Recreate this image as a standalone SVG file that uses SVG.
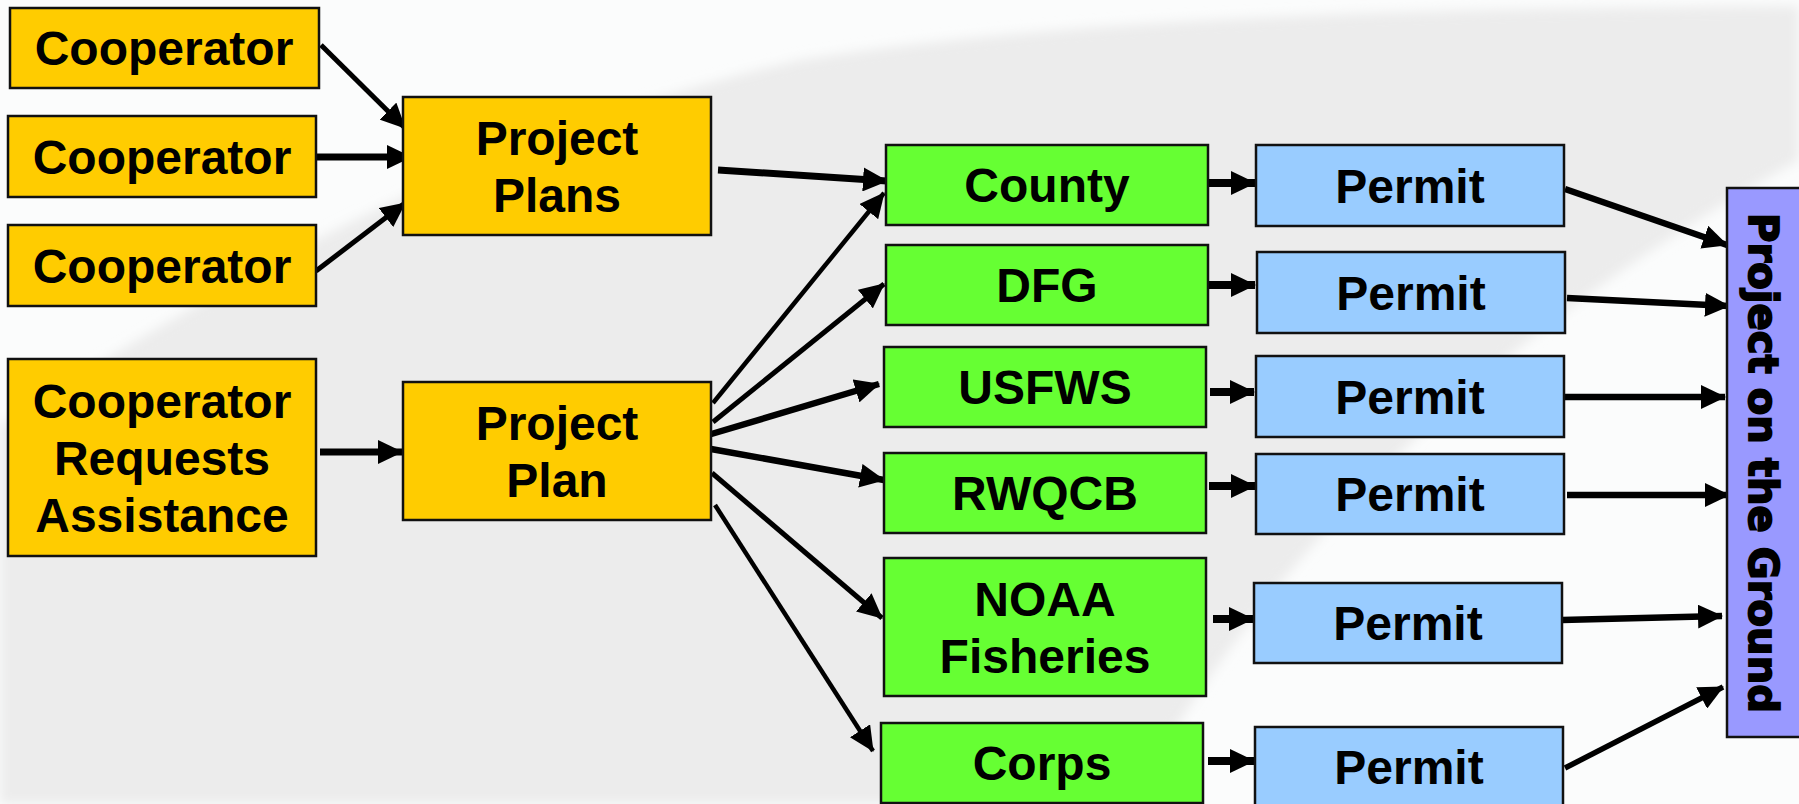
<svg xmlns="http://www.w3.org/2000/svg" width="1799" height="804" viewBox="0 0 1799 804">
<defs>
<style>
.box{stroke:#111;stroke-width:2.5}
.or{fill:#FFCC00}
.gr{fill:#66FF33}
.bl{fill:#99CCFF}
.pu{fill:#9999FF}
.t{font-family:"Liberation Sans",Arial,sans-serif;font-weight:bold;font-size:48px;fill:#000;text-anchor:middle}
.c{stroke:#000;fill:none;marker-end:url(#ah)}
</style>
<marker id="ah" markerUnits="userSpaceOnUse" markerWidth="25" markerHeight="24" viewBox="0 0 25 24" refX="24" refY="12" orient="auto">
<path d="M0,0 L25,12 L0,24 Z" fill="#000"/>
</marker>
<filter id="soft" filterUnits="userSpaceOnUse" x="-50" y="-50" width="1900" height="910">
<feGaussianBlur stdDeviation="6"/>
</filter>
</defs>
<rect width="1799" height="804" fill="#fbfcfc"/>
<path d="M0,425 C200,300 450,140 800,60 C1100,12 1500,8 1799,6 L1799,160 C1550,300 1300,500 1130,804 L0,804 Z" fill="#ececec" filter="url(#soft)"/>

<g id="connectors">
<line class="c" x1="321" y1="45" x2="405" y2="128" stroke-width="5"/>
<line class="c" x1="316" y1="157" x2="411" y2="157" stroke-width="7"/>
<line class="c" x1="316" y1="271" x2="405" y2="203" stroke-width="5"/>
<line class="c" x1="718" y1="170" x2="887" y2="181" stroke-width="7"/>
<line class="c" x1="320" y1="452" x2="402" y2="452" stroke-width="7"/>
<line class="c" x1="713" y1="403" x2="884" y2="193" stroke-width="4.5"/>
<line class="c" x1="713" y1="422" x2="884" y2="284" stroke-width="5"/>
<line class="c" x1="708" y1="435" x2="879" y2="384" stroke-width="6.5"/>
<line class="c" x1="711" y1="449" x2="884" y2="480" stroke-width="6.5"/>
<line class="c" x1="712" y1="473" x2="882" y2="618" stroke-width="5"/>
<line class="c" x1="715" y1="505" x2="873" y2="751" stroke-width="4.5"/>
<line class="c" x1="1209" y1="183" x2="1255" y2="183" stroke-width="8"/>
<line class="c" x1="1209" y1="285" x2="1255" y2="285" stroke-width="8"/>
<line class="c" x1="1210" y1="392" x2="1254" y2="392" stroke-width="8"/>
<line class="c" x1="1209" y1="486" x2="1255" y2="486" stroke-width="8"/>
<line class="c" x1="1213" y1="619" x2="1253" y2="619" stroke-width="8"/>
<line class="c" x1="1208" y1="761" x2="1254" y2="761" stroke-width="8"/>
<line class="c" x1="1565" y1="189" x2="1727" y2="245" stroke-width="6.5"/>
<line class="c" x1="1567" y1="298" x2="1729" y2="306" stroke-width="6.5"/>
<line class="c" x1="1565" y1="397" x2="1725" y2="397" stroke-width="6.5"/>
<line class="c" x1="1567" y1="495" x2="1729" y2="495" stroke-width="6.5"/>
<line class="c" x1="1562" y1="620" x2="1722" y2="616" stroke-width="6.5"/>
<line class="c" x1="1565" y1="768" x2="1723" y2="687" stroke-width="5.5"/>
</g>

<g id="coop1"><rect class="box or" x="10" y="8" width="309" height="80"/><text class="t" x="164" y="65">Cooperator</text></g>
<g id="coop2"><rect class="box or" x="8" y="116" width="308" height="81"/><text class="t" x="162" y="173.5">Cooperator</text></g>
<g id="coop3"><rect class="box or" x="8" y="225" width="308" height="81"/><text class="t" x="162" y="282.5">Cooperator</text></g>
<g id="coopReq"><rect class="box or" x="8" y="359" width="308" height="197"/><text class="t" x="162" y="417.5">Cooperator</text><text class="t" x="162" y="474.5">Requests</text><text class="t" x="162" y="531.5">Assistance</text></g>
<g id="plans"><rect class="box or" x="403" y="97" width="308" height="138"/><text class="t" x="557" y="154.5">Project</text><text class="t" x="557" y="211.5">Plans</text></g>
<g id="plan"><rect class="box or" x="403" y="382" width="308" height="138"/><text class="t" x="557" y="439.5">Project</text><text class="t" x="557" y="496.5">Plan</text></g>

<g id="county"><rect class="box gr" x="886" y="145" width="322" height="80"/><text class="t" x="1047" y="202">County</text></g>
<g id="dfg"><rect class="box gr" x="886" y="245" width="322" height="80"/><text class="t" x="1047" y="302">DFG</text></g>
<g id="usfws"><rect class="box gr" x="884" y="347" width="322" height="80"/><text class="t" x="1045" y="404">USFWS</text></g>
<g id="rwqcb"><rect class="box gr" x="884" y="453" width="322" height="80"/><text class="t" x="1045" y="510">RWQCB</text></g>
<g id="noaa"><rect class="box gr" x="884" y="558" width="322" height="138"/><text class="t" x="1045" y="615.5">NOAA</text><text class="t" x="1045" y="672.5">Fisheries</text></g>
<g id="corps"><rect class="box gr" x="881" y="723" width="322" height="80"/><text class="t" x="1042" y="780">Corps</text></g>

<g id="permit1"><rect class="box bl" x="1256" y="145" width="308" height="81"/><text class="t" x="1410" y="202.5">Permit</text></g>
<g id="permit2"><rect class="box bl" x="1257" y="252" width="308" height="81"/><text class="t" x="1411" y="309.5">Permit</text></g>
<g id="permit3"><rect class="box bl" x="1256" y="356" width="308" height="81"/><text class="t" x="1410" y="413.5">Permit</text></g>
<g id="permit4"><rect class="box bl" x="1256" y="454" width="308" height="80"/><text class="t" x="1410" y="511">Permit</text></g>
<g id="permit5"><rect class="box bl" x="1254" y="583" width="308" height="80"/><text class="t" x="1408" y="640">Permit</text></g>
<g id="permit6"><rect class="box bl" x="1255" y="727" width="308" height="80"/><text class="t" x="1409" y="784">Permit</text></g>

<g id="ground"><rect class="box pu" x="1727" y="188" width="80" height="549"/><text transform="translate(1749,463) rotate(90)" style="font-family:'DejaVu Sans',Verdana,sans-serif;font-weight:bold;font-size:41px;text-anchor:middle;fill:#000;stroke:#000;stroke-width:1.8" textLength="500" lengthAdjust="spacingAndGlyphs">Project on the Ground</text></g>
</svg>
